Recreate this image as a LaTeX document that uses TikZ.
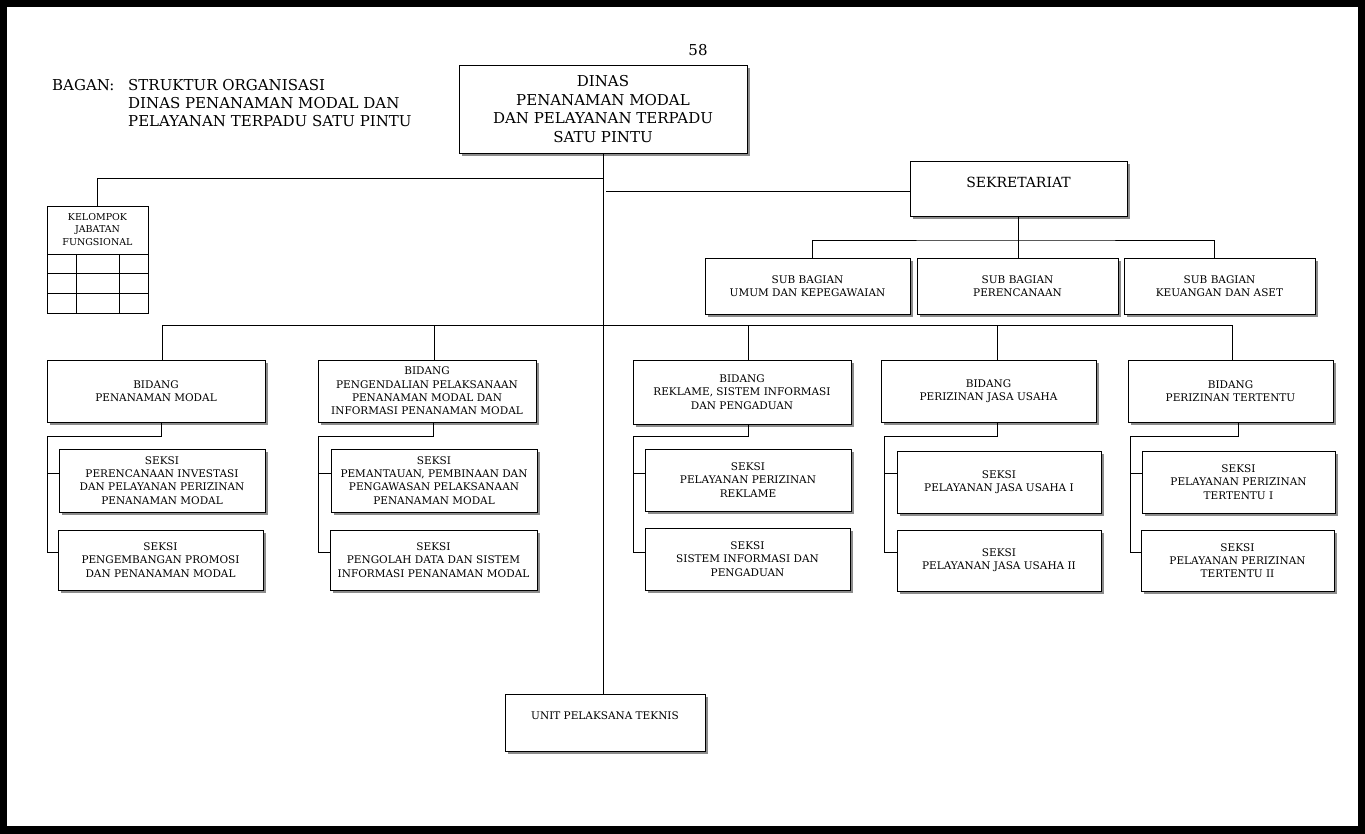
\documentclass[tikz,border=0pt]{standalone}
\usepackage{fontspec}
\setmainfont{DejaVu Serif}
\usetikzlibrary{shadows}
\begin{document}
\begin{tikzpicture}[x=1pt,y=-1pt,
  bx/.style={draw=black,line width=0.9pt,fill=white,align=center,inner sep=2pt,
    font=\fontsize{10.5}{13.3}\selectfont,
    drop shadow={shadow xshift=3pt,shadow yshift=-3pt,fill=black!45,opacity=1}},
  bigbx/.style={bx,font=\fontsize{15}{18.6}\selectfont},
  ln/.style={draw=black,line width=0.8pt},
  lbl/.style={inner sep=0pt,align=left,font=\fontsize{15}{18}\selectfont}]
\useasboundingbox (0,0) rectangle (1365,834);
\fill[black] (0,0) rectangle (1365,834);
\fill[white] (7,7) rectangle (1358,826);
% header
\node[lbl] (pg) at (698,50) {58};
\node[lbl,anchor=north west] (bagan) at (52,79) {BAGAN:};
\node[lbl,anchor=north west] (judul) at (128,79) {STRUKTUR ORGANISASI\\DINAS PENANAMAN MODAL DAN\\PELAYANAN TERPADU SATU PINTU};
% top
\node[bigbx,minimum width=288,minimum height=88] (dinas) at (603,109) {DINAS\\PENANAMAN MODAL\\DAN PELAYANAN TERPADU\\SATU PINTU};
\node[bx,font=\fontsize{14}{16}\selectfont,minimum width=217,minimum height=55] (sek) at (1018.5,188.5) {SEKRETARIAT\\[-4pt]\mbox{}};
\node[bx,minimum width=205,minimum height=56] (sb1) at (807.5,286) {SUB BAGIAN\\UMUM DAN KEPEGAWAIAN};
\node[bx,minimum width=201,minimum height=56] (sb2) at (1017.5,286) {SUB BAGIAN\\PERENCANAAN};
\node[bx,minimum width=191,minimum height=56] (sb3) at (1219.5,286) {SUB BAGIAN\\KEUANGAN DAN ASET};
% kelompok jabatan fungsional
\node[draw=black,line width=0.9pt,minimum width=101,minimum height=107,inner sep=0pt] (kjf) at (97.5,259.5) {};
\node[inner sep=0pt,align=center,font=\fontsize{9.5}{12.2}\selectfont] (kjft) at (97.5,229.5) {KELOMPOK\\JABATAN\\FUNGSIONAL};
\draw[ln] (47,254) -- (148,254) (47,273.5) -- (148,273.5) (47,293) -- (148,293)
  (76,254) -- (76,313) (119,254) -- (119,313);
% bidang
\node[bx,minimum width=218,minimum height=62] (b1) at (156,391) {BIDANG\\PENANAMAN MODAL};
\node[bx,minimum width=218,minimum height=62] (b2) at (427,391) {BIDANG\\PENGENDALIAN PELAKSANAAN\\PENANAMAN MODAL DAN\\INFORMASI PENANAMAN MODAL};
\node[bx,minimum width=218,minimum height=64] (b3) at (742,392) {BIDANG\\REKLAME, SISTEM INFORMASI\\DAN PENGADUAN};
\node[bx,minimum width=215,minimum height=62] (b4) at (988.5,391) {BIDANG\\PERIZINAN JASA USAHA};
\node[bx,minimum width=205,minimum height=62] (b5) at (1230.5,391) {BIDANG\\PERIZINAN TERTENTU};
% seksi
\node[bx,minimum width=206,minimum height=63] (s1) at (162,480.5) {SEKSI\\PERENCANAAN INVESTASI\\DAN PELAYANAN PERIZINAN\\PENANAMAN MODAL};
\node[bx,minimum width=205,minimum height=60] (s2) at (160.5,560) {SEKSI\\PENGEMBANGAN PROMOSI\\DAN PENANAMAN MODAL};
\node[bx,minimum width=206,minimum height=63] (s3) at (434,480.5) {SEKSI\\PEMANTAUAN, PEMBINAAN DAN\\PENGAWASAN PELAKSANAAN\\PENANAMAN MODAL};
\node[bx,minimum width=207,minimum height=60] (s4) at (433.5,560) {SEKSI\\PENGOLAH DATA DAN SISTEM\\INFORMASI PENANAMAN MODAL};
\node[bx,minimum width=206,minimum height=62] (s5) at (748,480) {SEKSI\\PELAYANAN PERIZINAN\\REKLAME};
\node[bx,minimum width=205,minimum height=62] (s6) at (747.5,559) {SEKSI\\SISTEM INFORMASI DAN\\PENGADUAN};
\node[bx,minimum width=204,minimum height=62] (s7) at (999,482) {SEKSI\\PELAYANAN JASA USAHA I};
\node[bx,minimum width=204,minimum height=61] (s8) at (999,560.5) {SEKSI\\PELAYANAN JASA USAHA II};
\node[bx,minimum width=193,minimum height=62] (s9) at (1238.5,482) {SEKSI\\PELAYANAN PERIZINAN\\TERTENTU I};
\node[bx,minimum width=193,minimum height=61] (s10) at (1237.5,560.5) {SEKSI\\PELAYANAN PERIZINAN\\TERTENTU II};
% UPT
\node[bx,minimum width=200,minimum height=57] (upt) at (605,722.5) {UNIT PELAKSANA TEKNIS\\\mbox{}};
% connectors
\coordinate (c0) at (603,154);
\coordinate (j1) at (603,178);
\coordinate (j2) at (606,191);
\coordinate (cb) at (603,325.5);
\draw[ln] (dinas.south -| c0) -- (c0 |- upt.north);
\draw[ln] (j1) -| (kjf.north);
\draw[ln] (j2) -- (j2 -| sek.west);
\coordinate (sbj) at (1018,240);
\draw[ln] (sbj |- sek.south) -- (sbj);
\draw[ln] ([xshift=4.5pt]sb1.north) |- (sbj) -| ([xshift=-5.5pt]sb3.north);
\draw[ln] (sbj) -- (sbj |- sb2.north);
\draw[ln] ([xshift=6pt]b1.north) |- (cb) -| ([xshift=1.5pt]b5.north);
\foreach \n/\dx in {b2/7,b3/6,b4/8.5} \draw[ln] ([xshift=\dx pt]\n.north) -- ([xshift=\dx pt]\n.north |- cb);
% seksi brackets
\foreach \b/\sa/\sb/\xl/\dx in {b1/s1/s2/47/5, b2/s3/s4/318/6, b3/s5/s6/633/6, b4/s7/s8/884/8.5, b5/s9/s10/1130/7.5}{
  \coordinate (t\b) at (\xl,436);
  \coordinate (m\b) at (\xl,473);
  \coordinate (e\b) at (\xl,552);
  \draw[ln] ([xshift=\dx pt]\b.south) |- (t\b) -- (e\b) -- (e\b -| \sb.west);
  \draw[ln] (m\b) -- (m\b -| \sa.west);
}
\end{tikzpicture}
\end{document}
